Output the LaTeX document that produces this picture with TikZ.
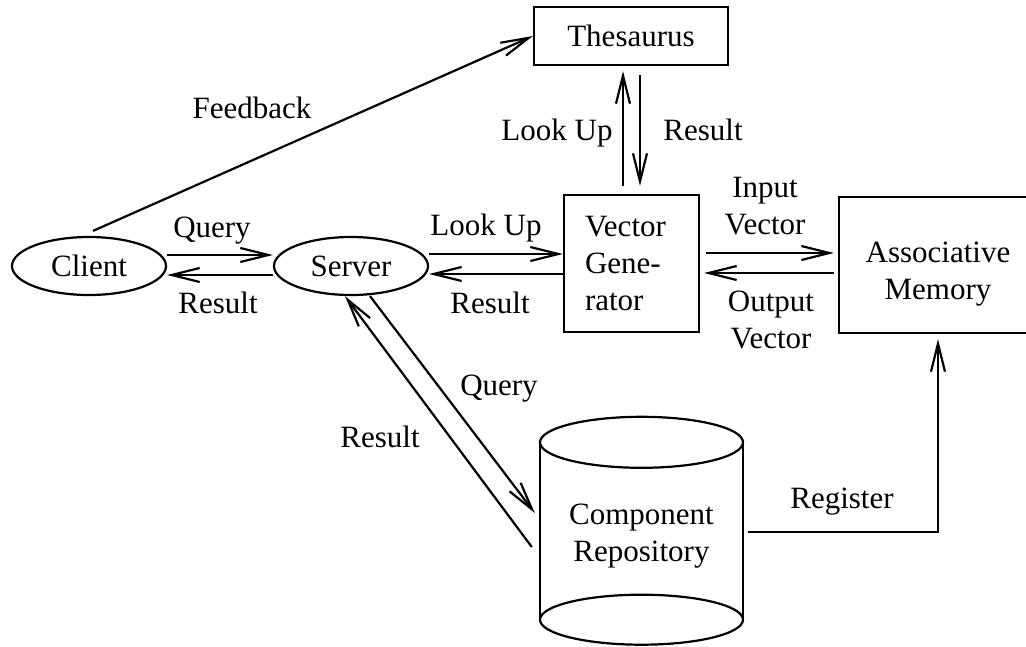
\documentclass[tikz,border=0pt]{standalone}
\usepackage{fontspec}
\setmainfont{Liberation Serif}
\usetikzlibrary{arrows.meta,calc,shapes.geometric}
\begin{document}
\begin{tikzpicture}[x=1pt,y=-1pt,
  every node/.style={font=\fontsize{31}{37}\selectfont, inner sep=0pt},
  conn/.style={line width=2.2pt, -{Straight Barb[length=28pt,width=14pt,line width=2.2pt]}},
  plain/.style={line width=2.2pt},
  box/.style={draw, line width=2.2pt, rectangle},
  oval/.style={draw, line width=2.2pt, ellipse, minimum width=154pt, minimum height=58pt},
  lbl/.style={anchor=base},
  mlbl/.style={align=center}]
\useasboundingbox (0,0) rectangle (1026,646);
\clip (0,0) rectangle (1026,646);

% nodes
\node[oval] (client) at (89,266) {Client};
\node[oval] (server) at (351,266) {Server};
\node[box, minimum width=194pt, minimum height=58pt] (thes) at (631,36) {Thesaurus};
\node[box, minimum width=135pt, minimum height=137pt, text width=93pt, align=left] (vg) at (631.5,263.5) {Vector\\Gene-\\rator};
\node[box, minimum width=198pt, minimum height=136pt,
      label={[mlbl,yshift=-9pt]center:Associative\\Memory}] (am) at (938,265) {};
\node[minimum width=203pt, minimum height=177pt, align=center] (repo) at (641.5,536) {Component\\Repository};

% cylinder
\coordinate (cnw) at ([yshift=5pt]repo.north west);
\coordinate (cne) at ([yshift=5pt]repo.north east);
\coordinate (csw) at ([yshift=5pt]repo.south west);
\coordinate (cse) at ([yshift=5pt]repo.south east);
\coordinate (ctop) at ([yshift=5pt]repo.north);
\coordinate (cbot) at ([yshift=5pt]repo.south);
\draw[plain] (cnw) -- (csw) (cne) -- (cse);
\draw[plain] (ctop) ellipse [x radius=101.5pt, y radius=25.5pt];
\draw[plain] (cbot) ellipse [x radius=101.5pt, y radius=25pt];

% client <-> server
\draw[conn] ([yshift=11pt]client.east) -- ([yshift=11pt]server.west);
\draw[conn] ([yshift=-9pt]server.west) -- ([yshift=-9pt]client.east);

% server <-> vector generator
\coordinate (a) at ([yshift=12pt]server.east);
\coordinate (b) at ([yshift=-8pt]server.east);
\draw[conn] (a) -- (a -| vg.west);
\draw[conn] (b -| vg.west) -- (b);

% vector generator <-> thesaurus
\draw[conn] ([xshift=-8.5pt,yshift=8pt]vg.north) -- ([xshift=-8pt,yshift=-5pt]thes.south);
\draw[conn] ([xshift=9pt,yshift=-9pt]thes.south) -- ([xshift=8.5pt,yshift=8pt]vg.north);

% vector generator <-> associative memory
\coordinate (c) at ([xshift=6pt,yshift=10.5pt]vg.east);
\coordinate (d) at ([xshift=4pt,yshift=-9.5pt]vg.east);
\draw[conn] (c) -- ($(c -| am.west)+(-4,0)$);
\draw[conn] ($(d -| am.west)+(-4,0)$) -- (d);

% feedback
\draw[conn] ([xshift=4pt,yshift=5pt]client.north) -- (thes.west);

% server <-> repository
\draw[conn] ([xshift=19pt]server.south) -- ([xshift=-5pt,yshift=23pt]repo.west);
\draw[conn] ([xshift=-8pt,yshift=-11pt]repo.west) -- ([xshift=-6pt]server.south);

% register
\draw[conn] ([xshift=5pt,yshift=4pt]repo.east) -| ([yshift=-5pt]am.south);

% labels
\node[lbl] (lfb) at (252,118) {Feedback};
\node[lbl] (lq1) at (212,237) {Query};
\node[lbl] (lr1) at (218,313) {Result};
\node[lbl] (llu1) at (486,235) {Look Up};
\node[lbl] (lr2) at (490,313) {Result};
\node[lbl] (llu2) at (557,140) {Look Up};
\node[lbl] (lr3) at (703,140) {Result};
\node[mlbl] (liv) at (765,206) {Input\\Vector};
\node[mlbl] (lov) at (771,320) {Output\\Vector};
\node[lbl] (lq2) at (499,395) {Query};
\node[lbl] (lr4) at (380,447) {Result};
\node[lbl] (lreg) at (842,508) {Register};
\end{tikzpicture}
\end{document}
